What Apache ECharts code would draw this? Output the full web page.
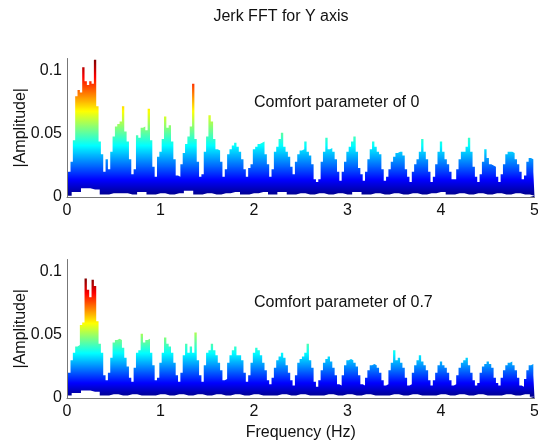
<!DOCTYPE html>
<html>
<head>
<meta charset="utf-8">
<script src="https://cdn.jsdelivr.net/npm/echarts@6/dist/echarts.min.js"></script>
<style>html,body{margin:0;padding:0;background:#fff;}#c{width:538px;height:446px;}</style>
</head>
<body>
<div id="c"></div>
<script>
// ---- data ----
const TITLE = 'Jerk FFT for Y axis';
const LABEL_TOP = 'Comfort parameter of 0';
const LABEL_BOTTOM = 'Comfort parameter of 0.7';
const Y_NAME = '|Amplitude|';
const X_NAME = 'Frequency (Hz)';
const X_TICKS = [0, 1, 2, 3, 4, 5];
const Y_TICKS = [0, 0.05, 0.1];

// upper envelope, sampled every 0.025 Hz from 0 to 5 Hz
const UPPER_STEP = 0.025;
const topUpper = [
0.017,0.020,0.028,0.045,0.080,0.085,0.083,0.103,0.092,0.089,
0.092,0.090,0.109,0.072,0.044,0.034,0.020,0.030,0.022,0.036,
0.048,0.056,0.058,0.060,0.072,0.052,0.044,0.030,0.018,0.022,
0.049,0.047,0.055,0.056,0.053,0.070,0.045,0.024,0.016,0.032,
0.036,0.046,0.064,0.055,0.057,0.044,0.030,0.017,0.016,0.026,
0.035,0.042,0.048,0.056,0.090,0.046,0.028,0.016,0.018,0.036,
0.048,0.065,0.060,0.046,0.038,0.037,0.028,0.016,0.022,0.034,
0.038,0.041,0.043,0.040,0.036,0.030,0.022,0.016,0.023,0.026,
0.038,0.040,0.042,0.043,0.044,0.034,0.026,0.016,0.022,0.036,
0.040,0.046,0.051,0.040,0.036,0.032,0.024,0.018,0.028,0.034,
0.037,0.038,0.044,0.036,0.033,0.026,0.014,0.012,0.014,0.028,
0.036,0.047,0.038,0.039,0.036,0.030,0.020,0.013,0.020,0.028,
0.036,0.040,0.044,0.048,0.036,0.023,0.018,0.013,0.020,0.030,
0.038,0.044,0.040,0.036,0.034,0.022,0.013,0.016,0.022,0.028,
0.032,0.035,0.036,0.036,0.033,0.022,0.016,0.012,0.020,0.026,
0.030,0.036,0.046,0.036,0.030,0.020,0.012,0.016,0.026,0.036,
0.044,0.036,0.030,0.026,0.020,0.014,0.014,0.022,0.030,0.036,
0.036,0.040,0.047,0.036,0.024,0.016,0.012,0.018,0.028,0.038,
0.031,0.026,0.025,0.024,0.016,0.012,0.018,0.026,0.034,0.036,
0.036,0.035,0.030,0.026,0.020,0.014,0.017,0.028,0.031,0.030,
0.020
];
const bottomUpper = [
0.023,0.020,0.030,0.036,0.041,0.042,0.058,0.060,0.095,0.086,
0.080,0.094,0.089,0.061,0.043,0.036,0.018,0.014,0.020,0.032,
0.044,0.046,0.047,0.046,0.040,0.032,0.025,0.016,0.013,0.024,
0.036,0.038,0.051,0.044,0.046,0.047,0.036,0.026,0.014,0.016,
0.028,0.036,0.048,0.043,0.041,0.036,0.028,0.018,0.013,0.020,
0.034,0.043,0.036,0.041,0.036,0.052,0.030,0.018,0.013,0.026,
0.036,0.038,0.043,0.038,0.034,0.028,0.022,0.014,0.015,0.028,
0.034,0.038,0.041,0.034,0.034,0.030,0.020,0.013,0.018,0.028,
0.036,0.040,0.038,0.034,0.028,0.022,0.014,0.011,0.016,0.024,
0.030,0.033,0.036,0.032,0.026,0.020,0.014,0.010,0.018,0.028,
0.031,0.033,0.036,0.043,0.030,0.024,0.013,0.009,0.014,0.022,
0.028,0.031,0.033,0.029,0.024,0.018,0.011,0.010,0.018,0.026,
0.030,0.031,0.030,0.028,0.025,0.018,0.011,0.010,0.016,0.022,
0.026,0.027,0.026,0.024,0.020,0.014,0.010,0.011,0.022,0.028,
0.038,0.030,0.032,0.028,0.024,0.016,0.010,0.011,0.020,0.026,
0.030,0.034,0.029,0.026,0.022,0.014,0.010,0.014,0.020,0.026,
0.029,0.026,0.024,0.020,0.014,0.010,0.011,0.018,0.024,0.028,
0.030,0.032,0.026,0.020,0.014,0.010,0.012,0.020,0.025,0.027,
0.029,0.027,0.024,0.016,0.012,0.010,0.016,0.022,0.026,0.028,
0.029,0.026,0.022,0.016,0.010,0.009,0.015,0.022,0.026,0.027,
0.018
];
// lower envelope, sampled every 0.1 Hz
const LOWER_STEP = 0.1;
const topLower = [
0.001,0.004,0.007,0.006,0.002,0.003,0.003,0.002,0.004,0.002,
0.003,0.002,0.003,0.005,0.002,0.003,0.002,0.003,0.004,0.002,
0.003,0.004,0.002,0.004,0.002,0.003,0.002,0.003,0.002,0.003,
0.002,0.004,0.002,0.003,0.002,0.003,0.002,0.003,0.002,0.003,
0.004,0.002,0.003,0.002,0.003,0.002,0.003,0.002,0.003,0.002,
0.001
];
const bottomLower = [
0.002,0.004,0.006,0.005,0.002,0.003,0.002,0.003,0.002,0.002,
0.003,0.002,0.003,0.002,0.003,0.002,0.003,0.002,0.003,0.002,
0.003,0.002,0.002,0.003,0.002,0.003,0.002,0.002,0.003,0.002,
0.003,0.002,0.003,0.002,0.002,0.003,0.002,0.003,0.002,0.002,
0.003,0.002,0.003,0.002,0.003,0.002,0.002,0.003,0.002,0.003,
0.001
];

// ---- build ----
function pairs(arr, step) { return arr.map((v, i) => [+(i * step).toFixed(3), v]); }
const JET = ['#00007f','#0000ff','#007fff','#00ffff','#7fff7f','#ffff00','#ff7f00','#ff0000','#7f0000'];
const FONT = 'Liberation Sans, Arial, Helvetica, sans-serif';
const TXT = '#111';
const FS = 16;

function xAxisCfg(gi, showName) {
  return {
    type: 'value', gridIndex: gi, min: 0, max: 5, interval: 1, z: 10,
    name: showName ? X_NAME : '', nameLocation: 'middle', nameGap: 27, nameMoveOverlap: false,
    nameTextStyle: { fontFamily: FONT, fontSize: FS, color: TXT },
    axisLine: { show: true, lineStyle: { color: '#777', width: 1 } },
    axisTick: { show: false },
    splitLine: { show: false },
    axisLabel: { fontFamily: FONT, fontSize: FS, color: TXT, margin: 6,
      formatter: v => (X_TICKS.indexOf(v) >= 0 ? String(v) : '') }
  };
}
function yAxisCfg(gi) {
  return {
    type: 'value', gridIndex: gi, min: 0, max: 0.11, interval: 0.05, z: 10,
    name: Y_NAME, nameLocation: 'middle', nameGap: 38, nameMoveOverlap: false,
    nameTextStyle: { fontFamily: FONT, fontSize: FS, color: TXT },
    axisLine: { show: true, lineStyle: { color: '#777', width: 1 } },
    axisTick: { show: false },
    splitLine: { show: false },
    axisLabel: { fontFamily: FONT, fontSize: FS, color: TXT, margin: 5, showMaxLabel: false,
      formatter: v => (Y_TICKS.indexOf(+v.toFixed(3)) >= 0 ? String(+v.toFixed(3)) : '') }
  };
}
function upperSeries(gi, data) {
  return {
    type: 'line', xAxisIndex: gi, yAxisIndex: gi, data: data, step: 'middle',
    showSymbol: false, silent: true, z: 2,
    lineStyle: { width: 0 },
    areaStyle: { opacity: 1 }
  };
}
function lowerSeries(gi, data) {
  return {
    type: 'line', xAxisIndex: gi, yAxisIndex: gi, data: data, step: 'middle',
    showSymbol: false, silent: true, z: 3,
    itemStyle: { color: '#fff' },
    lineStyle: { width: 0, color: '#fff' },
    areaStyle: { opacity: 1, color: '#fff' }
  };
}

const chart = echarts.init(document.getElementById('c'), null, { renderer: 'canvas' });
chart.setOption({
  animation: false,
  backgroundColor: '#fff',
  title: [
    { text: TITLE, left: 276, top: 4, textAlign: 'center',
      textStyle: { fontFamily: FONT, fontSize: FS, fontWeight: 'normal', color: TXT } },
    { text: LABEL_TOP, left: 249, top: 90,
      textStyle: { fontFamily: FONT, fontSize: FS, fontWeight: 'normal', color: TXT } },
    { text: LABEL_BOTTOM, left: 249, top: 290,
      textStyle: { fontFamily: FONT, fontSize: FS, fontWeight: 'normal', color: TXT } }
  ],
  grid: [
    { left: 67, width: 467.5, top: 58.5, height: 138.5, containLabel: false, outerBoundsMode: 'none' },
    { left: 67, width: 467.5, top: 259.5, height: 138.5, containLabel: false, outerBoundsMode: 'none' }
  ],
  xAxis: [xAxisCfg(0, false), xAxisCfg(1, true)],
  yAxis: [yAxisCfg(0), yAxisCfg(1)],
  visualMap: [
    { type: 'continuous', show: false, seriesIndex: 0, dimension: 1, min: 0, max: 0.109, inRange: { color: JET } },
    { type: 'continuous', show: false, seriesIndex: 2, dimension: 1, min: 0, max: 0.095, inRange: { color: JET } }
  ],
  series: [
    upperSeries(0, pairs(topUpper, UPPER_STEP)),
    lowerSeries(0, pairs(topLower, LOWER_STEP)),
    upperSeries(1, pairs(bottomUpper, UPPER_STEP)),
    lowerSeries(1, pairs(bottomLower, LOWER_STEP))
  ]
});
</script>
</body>
</html>
